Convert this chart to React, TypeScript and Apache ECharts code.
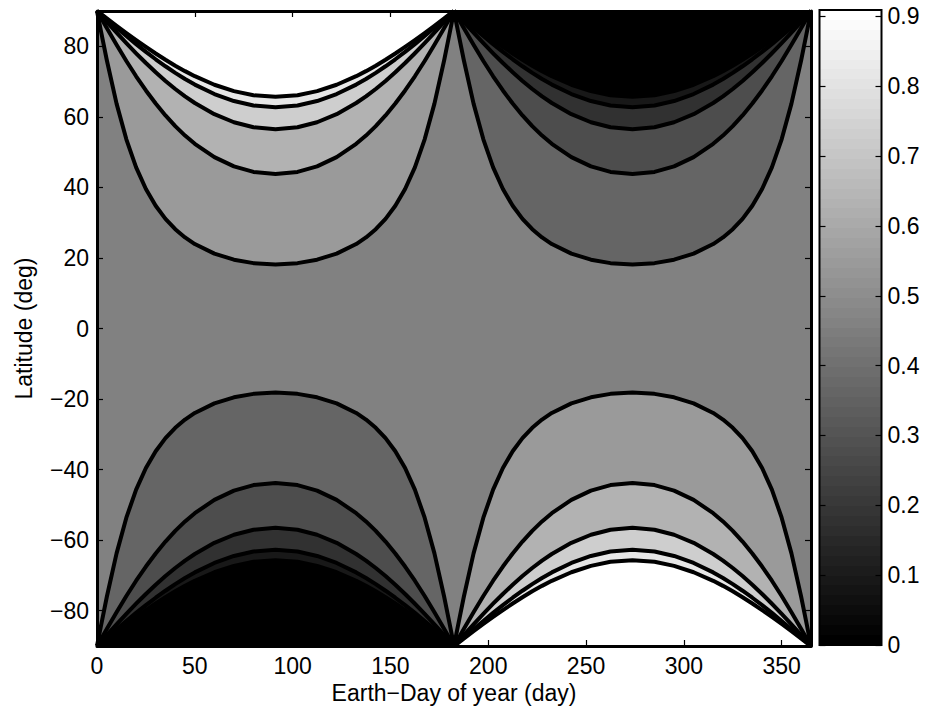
import React, { useEffect, useRef } from "react";
import * as echarts from "echarts";

// ---- data (daylight fraction contours) ----
// Day samples for the first and second halves of the year
const dayFirstHalf = [0, 2, 5, 10, 15, 20, 25, 30, 35, 40, 45, 50, 60, 70, 80, 91.25, 102.5, 112.5, 122.5, 132.5, 137.5, 142.5, 147.5, 152.5, 157.5, 162.5, 167.5, 172.5, 177.5, 180.5, 182.5];
const daySecondHalf = [182.5, 184.5, 187.5, 192.5, 197.5, 202.5, 207.5, 212.5, 217.5, 222.5, 227.5, 232.5, 242.5, 252.5, 262.5, 273.75, 285, 295, 305, 315, 320, 325, 330, 335, 340, 345, 350, 355, 360, 363, 365];

// Poleward latitude (deg) of each contour line, read along the day samples
const latContourA = [90, 84.35, 76.11, 63.74, 53.62, 45.68, 39.55, 34.79, 31.08, 28.14, 25.81, 23.94, 21.22, 19.5, 18.53, 18.17, 18.53, 19.5, 21.22, 23.94, 25.81, 28.14, 31.08, 34.79, 39.55, 45.68, 53.62, 63.74, 76.11, 84.35, 90];
const latContourB = [90, 88.06, 85.16, 80.41, 75.84, 71.5, 67.47, 63.76, 60.39, 57.37, 54.69, 52.35, 48.58, 45.96, 44.38, 43.78, 44.38, 45.96, 48.58, 52.35, 54.69, 57.37, 60.39, 63.76, 67.47, 71.5, 75.84, 80.41, 85.16, 88.06, 90];
const latContourC = [90, 88.77, 86.93, 83.88, 80.9, 78.02, 75.25, 72.63, 70.18, 67.89, 65.8, 63.92, 60.76, 58.47, 57.05, 56.49, 57.05, 58.47, 60.76, 63.92, 65.8, 67.89, 70.18, 72.63, 75.25, 78.02, 80.9, 83.88, 86.93, 88.77, 90];
const latContourD = [90, 89.04, 87.61, 85.23, 82.9, 80.62, 78.42, 76.32, 74.33, 72.45, 70.72, 69.14, 66.46, 64.48, 63.22, 62.74, 63.22, 64.48, 66.46, 69.14, 70.72, 72.45, 74.33, 76.32, 78.42, 80.62, 82.9, 85.23, 87.61, 89.04, 90];
const latContourE = [90, 89.16, 87.9, 85.82, 83.76, 81.76, 79.82, 77.95, 76.18, 74.5, 72.95, 71.52, 69.09, 67.28, 66.13, 65.68, 66.13, 67.28, 69.09, 71.52, 72.95, 74.5, 76.18, 77.95, 79.82, 81.76, 83.76, 85.82, 87.9, 89.16, 90];

// Fill shades of the bands (gray colormap), from lowest band to highest
const bandGrays = ["#000000", "#181818", "#313131", "#4d4d4d", "#656565", "#818181", "#9a9a9a", "#b2b2b2", "#cecece", "#e7e7e7", "#ffffff"];
// Band index filled beyond each contour: sunlit quadrants / dark quadrants
const brightBands = [6, 7, 8, 9, 10];
const darkBands = [4, 3, 2, 1, 0];

const xTicks = [0, 50, 100, 150, 200, 250, 300, 350];
const yTicks = [-80, -60, -40, -20, 0, 20, 40, 60, 80];
const cbTicks = [0, 0.1, 0.2, 0.3, 0.4, 0.5, 0.6, 0.7, 0.8, 0.9];
const cbMax = 10 / 11;

const FONT = "Liberation Sans, Arial, Helvetica, sans-serif";
const FS = 23;

type Region = { days: number[]; lats: number[]; color: string };

function buildRegions(): Region[] {
  const contours = [latContourA, latContourB, latContourC, latContourD, latContourE];
  const quads = [
    { days: dayFirstHalf, sign: 1, bands: brightBands },
    { days: daySecondHalf, sign: 1, bands: darkBands },
    { days: dayFirstHalf, sign: -1, bands: darkBands },
    { days: daySecondHalf, sign: -1, bands: brightBands },
  ];
  const out: Region[] = [];
  quads.forEach((q) => {
    contours.forEach((c, k) => {
      out.push({ days: q.days, lats: c.map((v) => v * q.sign), color: bandGrays[q.bands[k]] });
    });
  });
  return out;
}

export default function App() {
  const ref = useRef<HTMLDivElement>(null);
  useEffect(() => {
    const chart = echarts.init(ref.current!, null, { renderer: "svg" });
    const regions = buildRegions();

    const steps = 64;
    const stops: { offset: number; color: string }[] = [];
    for (let i = 0; i < steps; i++) {
      const g = Math.round((i / (steps - 1)) * 255);
      const col = `rgb(${g},${g},${g})`;
      stops.push({ offset: i / steps, color: col });
      stops.push({ offset: (i + 1) / steps, color: col });
    }

    const labelStyle = { fontFamily: FONT, fontSize: FS, color: "#000" };
    const tickStyle = { color: "#000", width: 1.2 };

    const option: any = {
      animation: false,
      backgroundColor: "#fff",
      grid: [
        { left: 97, top: 11, width: 714, height: 635, show: true, backgroundColor: bandGrays[5], borderWidth: 0, outerBoundsMode: "none" },
        { left: 819.5, top: 10, width: 62, height: 635, show: false, outerBoundsMode: "none" },
      ],
      xAxis: [
        {
          type: "value", gridIndex: 0, position: "bottom", min: 0, max: 365, z: 10,
          axisLine: { show: true, onZero: false, lineStyle: { color: "#000", width: 3 } },
          axisTick: { show: true, inside: true, length: 6, customValues: xTicks, lineStyle: tickStyle },
          axisLabel: { show: true, margin: 8, customValues: xTicks, ...labelStyle },
          splitLine: { show: false },
          name: "Earth−Day of year (day)", nameLocation: "middle", nameGap: 33,
          nameTextStyle: { ...labelStyle },
        },
        {
          type: "value", gridIndex: 0, position: "top", min: 0, max: 365, z: 10,
          axisLine: { show: true, onZero: false, lineStyle: { color: "#000", width: 3 } },
          axisTick: { show: true, inside: true, length: 6, customValues: xTicks, lineStyle: tickStyle },
          axisLabel: { show: false },
          splitLine: { show: false },
        },
        {
          type: "value", gridIndex: 1, min: 0, max: 1, show: false,
        },
      ],
      yAxis: [
        {
          type: "value", gridIndex: 0, position: "left", min: -90, max: 90, z: 10,
          axisLine: { show: true, onZero: false, lineStyle: { color: "#000", width: 3 } },
          axisTick: { show: true, inside: true, length: 6, customValues: yTicks, lineStyle: tickStyle },
          axisLabel: {
            show: true, margin: 8, customValues: yTicks, ...labelStyle,
            formatter: (v: number) => (v < 0 ? "−" + Math.abs(v) : String(v)),
          },
          splitLine: { show: false },
          name: "Latitude (deg)", nameLocation: "middle", nameGap: 62, nameRotate: 90,
          nameTextStyle: { ...labelStyle },
        },
        {
          type: "value", gridIndex: 0, position: "right", min: -90, max: 90, z: 10,
          axisLine: { show: true, onZero: false, lineStyle: { color: "#000", width: 3 } },
          axisTick: { show: true, inside: true, length: 6, customValues: yTicks, lineStyle: tickStyle },
          axisLabel: { show: false },
          splitLine: { show: false },
        },
        {
          type: "value", gridIndex: 1, position: "left", min: 0, max: cbMax, z: 10,
          axisLine: { show: false },
          axisTick: { show: true, inside: true, length: 6, customValues: cbTicks, lineStyle: tickStyle },
          axisLabel: { show: false },
          splitLine: { show: false },
        },
        {
          type: "value", gridIndex: 1, position: "right", min: 0, max: cbMax, z: 10,
          axisLine: { show: false },
          axisTick: { show: true, inside: true, length: 6, customValues: cbTicks, lineStyle: tickStyle },
          axisLabel: {
            show: true, margin: 6, customValues: cbTicks, ...labelStyle,
            formatter: (v: number) => (Math.abs(v) < 1e-9 ? "0" : v.toFixed(1)),
          },
          splitLine: { show: false },
        },
      ],
      series: [
        {
          type: "custom",
          xAxisIndex: 0,
          yAxisIndex: 0,
          silent: true,
          z: 2,
          data: regions.map((r) => [r.days[15], r.lats[15]]),
          renderItem: (params: any, api: any) => {
            const r = regions[params.dataIndex];
            const pts = r.days.map((d, i) => api.coord([d, r.lats[i]]));
            return {
              type: "polygon",
              shape: { points: pts },
              style: { fill: r.color, stroke: r.color, lineWidth: 0.5 },
            };
          },
        },
        ...regions.map((r) => ({
          type: "line",
          xAxisIndex: 0,
          yAxisIndex: 0,
          silent: true,
          z: 5,
          symbol: "none",
          showSymbol: false,
          clip: true,
          data: r.days.map((d, i) => [d, r.lats[i]]),
          lineStyle: { color: "#000", width: 4, join: "round" },
        })),
        {
          type: "custom",
          xAxisIndex: 2,
          yAxisIndex: 2,
          silent: true,
          z: 2,
          data: [[0, 0]],
          renderItem: (params: any, api: any) => {
            const p0 = api.coord([0, 0]);
            const p1 = api.coord([1, cbMax]);
            return {
              type: "rect",
              shape: { x: p0[0], y: p1[1], width: p1[0] - p0[0], height: p0[1] - p1[1] },
              style: {
                fill: new echarts.graphic.LinearGradient(0, 1, 0, 0, stops),
                stroke: "#000",
                lineWidth: 2,
              },
            };
          },
        },
      ],
    };
    chart.setOption(option);
    return () => chart.dispose();
  }, []);
  return (
    <div
      ref={ref}
      style={{ position: "fixed", left: 0, top: 0, width: 929, height: 713, background: "#fff" }}
    />
  );
}
